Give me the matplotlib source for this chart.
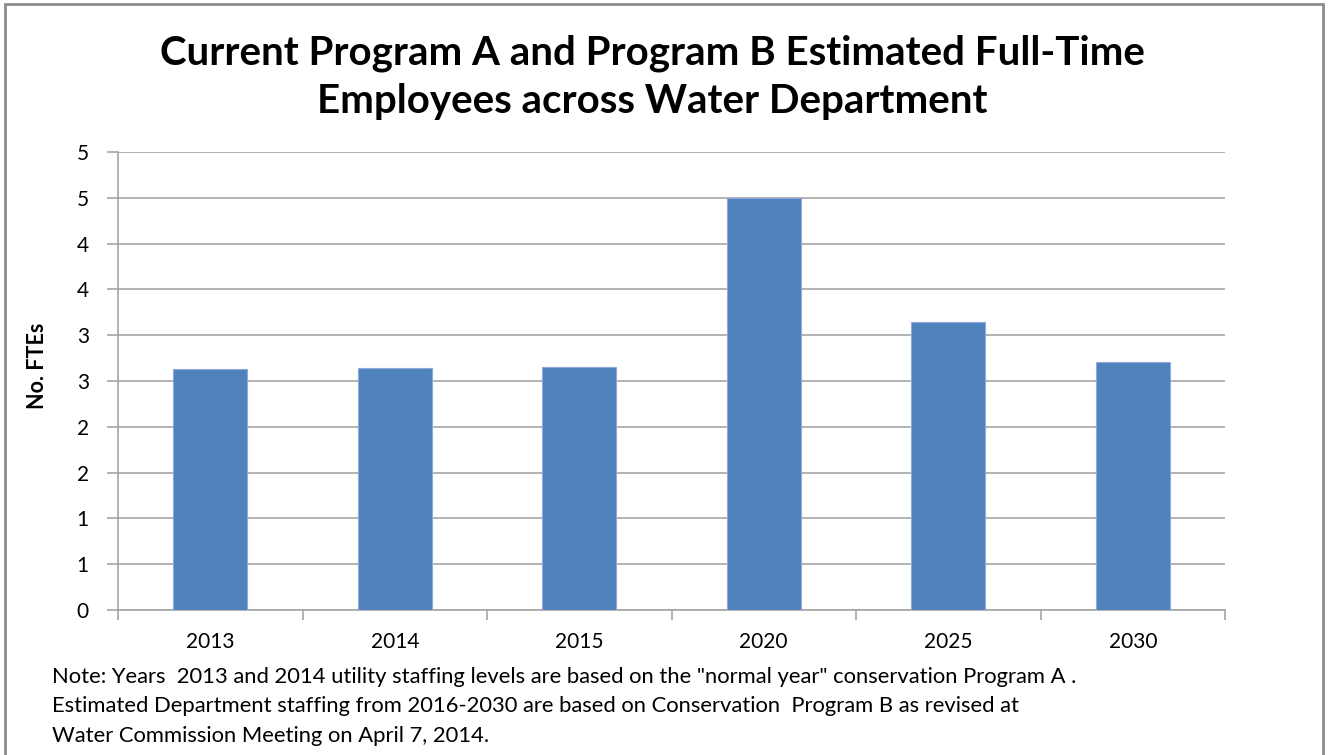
import matplotlib
matplotlib.use("Agg")
import matplotlib.pyplot as plt
from matplotlib.patches import Rectangle
from matplotlib.ticker import FixedLocator, FuncFormatter

years = ["2013", "2014", "2015", "2020", "2025", "2030"]
ftes = [2.63, 2.64, 2.65, 4.50, 3.14, 2.71]
y_ticks = [0, 0.5, 1, 1.5, 2, 2.5, 3, 3.5, 4, 4.5, 5]

title = "Current Program A and Program B Estimated Full-Time\nEmployees across Water Department"
ylabel = "No. FTEs"
note_lines = [
    'Note: Years  2013 and 2014 utility staffing levels are based on the "normal year" conservation Program A .',
    "Estimated Department staffing from 2016-2030 are based on Conservation  Program B as revised at",
    "Water Commission Meeting on April 7, 2014.",
]

plt.rcParams['font.family'] = ['Lato', 'DejaVu Sans']

W, H = 1333, 755
fig = plt.figure(figsize=(W / 100, H / 100), dpi=100)
fig.patches.append(Rectangle((5 / W, -0.01), (1323 - 5) / W, 1.01 - 4 / H,
                             transform=fig.transFigure, fill=False,
                             edgecolor="#8c8c8c", linewidth=2))

ax = fig.add_axes([118 / W, (H - 610) / H, (1225 - 118) / W, (610 - 152) / H])
x = list(range(len(years)))
ax.bar(x, ftes, width=0.4, color="#4F81BD", edgecolor="#8EAADB", linewidth=0.8, zorder=3)
ax.set_xlim(-0.5, len(years) - 0.5)
ax.set_ylim(0, 5)
ax.yaxis.set_major_locator(FixedLocator(y_ticks))
ax.yaxis.set_major_formatter(FuncFormatter(lambda v, p: str(int(v + 0.5))))
ax.grid(axis="y", color="#a6a6a6", linewidth=1.2, zorder=0)
ax.set_xticks(x)
ax.set_xticklabels(years)
ax.set_xticks([i - 0.5 for i in range(len(years) + 1)], minor=True)
ax.tick_params(axis="x", which="major", length=0, pad=16, labelsize=15)
ax.tick_params(axis="x", which="minor", length=7, color="#a6a6a6", width=1.2)
ax.tick_params(axis="y", length=8, color="#a6a6a6", width=1.2, labelsize=15, pad=13)
for s in ["top", "right"]:
    ax.spines[s].set_visible(False)
for s in ["left", "bottom"]:
    ax.spines[s].set_color("#a6a6a6")
    ax.spines[s].set_linewidth(1.2)

fig.text(38 / W, 1 - 366 / H, ylabel, rotation=90, ha="center", va="center",
         fontsize=15.5, fontweight="bold")
fig.text(652 / W, 1 - 77 / H, title, ha="center", va="center", fontsize=29,
         fontweight="bold", linespacing=1.38)
for i, line in enumerate(note_lines):
    fig.text(52 / W, 1 - (677 + 29.5 * i) / H, line, ha="left", va="center", fontsize=15.8)

fig.savefig("out.png", dpi=100)
